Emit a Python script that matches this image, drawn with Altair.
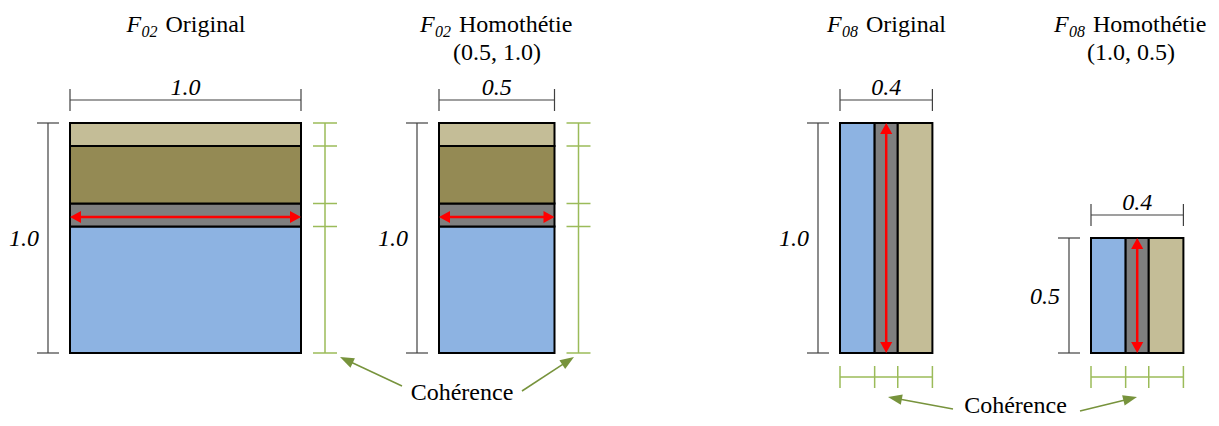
import math
import altair as alt
import pandas as pd

# ---------------- data ----------------
f02_layer_thickness = [0.55, 0.10, 0.25, 0.10]          # bottom -> top
f02_layer_colors = ["#8DB3E2", "#7F7F7F", "#948A54", "#C4BD97"]
f08_layer_thickness = [0.15, 0.10, 0.15]                # left -> right
f08_layer_colors = ["#8DB3E2", "#7F7F7F", "#C4BD97"]

panel_sym = ["F", "F", "F", "F"]
panel_sub = ["02", "02", "08", "08"]
panel_word = ["Original", "Homothétie", "Original", "Homothétie"]
panel_params = ["", "(0.5, 1.0)", "", "(1.0, 0.5)"]
panel_kind = ["F02", "F02", "F08", "F08"]
base_width = [1.0, 1.0, 0.4, 0.4]
base_height = [1.0, 1.0, 1.0, 1.0]
scale_x = [1.0, 0.5, 1.0, 1.0]
scale_y = [1.0, 1.0, 1.0, 0.5]
width_labels = ["1.0", "0.5", "0.4", "0.4"]
height_labels = ["1.0", "1.0", "1.0", "0.5"]
coherence_label = "Cohérence"

# ---------------- layout (pixels) ----------------
UX, UY = 231.0, 230.0
LEFT = [70, 439, 840, 1091]
BOTTOM = 353
TITLE_CX = [185.5, 497, 886, 1131]
WORD_W = {"Original": 79, "Homothétie": 115}
DIM = "#404040"
GREEN = "#9BBB59"
GREEN_DARK = "#77933C"
RED = "#FF0000"
FONT = "Liberation Serif, Times New Roman, serif"

rects, segs, heads, texts = [], [], [], []


def seg(x, y, x2, y2, color, sw):
    segs.append(dict(x=x, y=y, x2=x2, y2=y2, color=color, sw=sw))


def arrow_head(tx, ty, fx, fy, L, color, kind):
    dx, dy = tx - fx, ty - fy
    n = math.hypot(dx, dy)
    ux, uy = dx / n, dy / n
    ang = math.degrees(math.atan2(ux, -uy)) % 360
    heads.append(dict(x=tx - ux * L / 2, y=ty - uy * L / 2, ang=ang,
                      color=color, size=L * L, kind=kind))
    return tx - ux * L * 0.8, ty - uy * L * 0.8


def text(x, y, t, style, size, align):
    texts.append(dict(x=x, y=y, t=t, style=style, size=size, align=align))


for i in range(4):
    w = base_width[i] * scale_x[i] * UX
    h = base_height[i] * scale_y[i] * UY
    left, right = LEFT[i], LEFT[i] + w
    bottom, top = BOTTOM, BOTTOM - h
    if panel_kind[i] == "F02":
        cum = 0.0
        bounds = [bottom]
        for t, c in zip(f02_layer_thickness, f02_layer_colors):
            y0 = bottom - cum * h
            cum += t
            y1 = bottom - cum * h
            rects.append(dict(x=left, x2=right, y=y1, y2=y0, fill=c))
            bounds.append(y1)
        ym = bottom - (f02_layer_thickness[0] + f02_layer_thickness[1] / 2) * h + 2
        a = arrow_head(right, ym, left, ym, 11, RED, "red")
        b = arrow_head(left, ym, right, ym, 11, RED, "red")
        seg(b[0], ym, a[0], ym, RED, 2.5)
        gx = right + 24
        seg(gx, top, gx, bottom, GREEN, 1.5)
        for yb in bounds:
            seg(gx - 12, yb, gx + 12, yb, GREEN, 1.5)
    else:
        tot = sum(f08_layer_thickness)
        cum = 0.0
        bounds = [left]
        for t, c in zip(f08_layer_thickness, f08_layer_colors):
            x0 = left + cum / tot * w
            cum += t
            x1 = left + cum / tot * w
            rects.append(dict(x=x0, x2=x1, y=top, y2=bottom, fill=c))
            bounds.append(x1)
        xm = left + (f08_layer_thickness[0] + f08_layer_thickness[1] / 2) / tot * w
        a = arrow_head(xm, top, xm, bottom, 11, RED, "red")
        b = arrow_head(xm, bottom, xm, top, 11, RED, "red")
        seg(xm, a[1], xm, b[1], RED, 2.5)
        gy = bottom + 24
        seg(left, gy, right, gy, GREEN, 1.5)
        for xb in bounds:
            seg(xb, gy - 11, xb, gy + 11, GREEN, 1.5)

    dy = top - 23
    seg(left, dy, right, dy, DIM, 1.2)
    seg(left, dy - 11, left, dy + 11, DIM, 1.2)
    seg(right, dy - 11, right, dy + 11, DIM, 1.2)
    text((left + right) / 2, dy - 5, width_labels[i], "italic", 24, "center")
    dx = left - 22
    seg(dx, top, dx, bottom, DIM, 1.2)
    seg(dx - 11, top, dx + 11, top, DIM, 1.2)
    seg(dx - 11, bottom, dx + 11, bottom, DIM, 1.2)
    text(dx - 9, (top + bottom) / 2 + 8, height_labels[i], "italic", 24, "right")

    total = 39 + WORD_W[panel_word[i]]
    sx = TITLE_CX[i] - total / 2
    text(sx, 32, panel_sym[i], "italic", 24, "left")
    text(sx + 15, 37, panel_sub[i], "italic", 16, "left")
    text(sx + 39, 32, panel_word[i], "normal", 24, "left")
    if panel_params[i]:
        text(TITLE_CX[i], 60, panel_params[i], "normal", 24, "center")

text(462, 400, coherence_label, "normal", 24, "center")
text(1015.5, 413, coherence_label, "normal", 24, "center")
for (fx, fy, tx, ty) in [(402, 386, 340, 357), (522, 391, 574, 357),
                         (953, 409, 888, 397), (1080, 411, 1137, 397)]:
    e = arrow_head(tx, ty, fx, fy, 14, GREEN_DARK, "green")
    seg(fx, fy, e[0], e[1], GREEN_DARK, 1.5)

# ---------------- chart ----------------
X = alt.X("x:Q", scale=alt.Scale(domain=[8, 1211], nice=False, zero=False), axis=None)
Y = alt.Y("y:Q", scale=alt.Scale(domain=[8, 418], nice=False, zero=False, reverse=True), axis=None)

rect_layer = alt.Chart(pd.DataFrame(rects)).mark_rect(stroke="black", strokeWidth=2).encode(
    x=X, x2="x2:Q", y=Y, y2="y2:Q", color=alt.Color("fill:N", scale=None))

seg_layer = alt.Chart(pd.DataFrame(segs)).mark_rule().encode(
    x=X, x2="x2:Q", y=Y, y2="y2:Q",
    color=alt.Color("color:N", scale=None),
    strokeWidth=alt.StrokeWidth("sw:Q", scale=None))

hdf = pd.DataFrame(heads)
head_layers = []
for kind, path in [("red", "M0,-1L1.1,1L-1.1,1Z"), ("green", "M0,-1L0.75,1L-0.75,1Z")]:
    head_layers.append(alt.Chart(hdf[hdf["kind"] == kind]).mark_point(
        shape=path, filled=True, opacity=1, strokeWidth=0).encode(
        x=X, y=Y, angle=alt.Angle("ang:Q", scale=None),
        color=alt.Color("color:N", scale=None),
        size=alt.Size("size:Q", scale=None)))

tdf = pd.DataFrame(texts)
text_layers = []
for (style, size, align), g in tdf.groupby(["style", "size", "align"]):
    text_layers.append(alt.Chart(g).mark_text(
        font=FONT, fontSize=int(size), fontStyle=str(style),
        align=str(align), baseline="alphabetic", color="black").encode(
        x=X, y=Y, text="t:N"))

chart = alt.layer(rect_layer, seg_layer, *head_layers, *text_layers).properties(
    width=1203, height=410, autosize=alt.AutoSizeParams(type="none"), padding=0
).configure_view(stroke=None)

chart.save("out.html", embed_options={"renderer": "svg", "actions": False})
